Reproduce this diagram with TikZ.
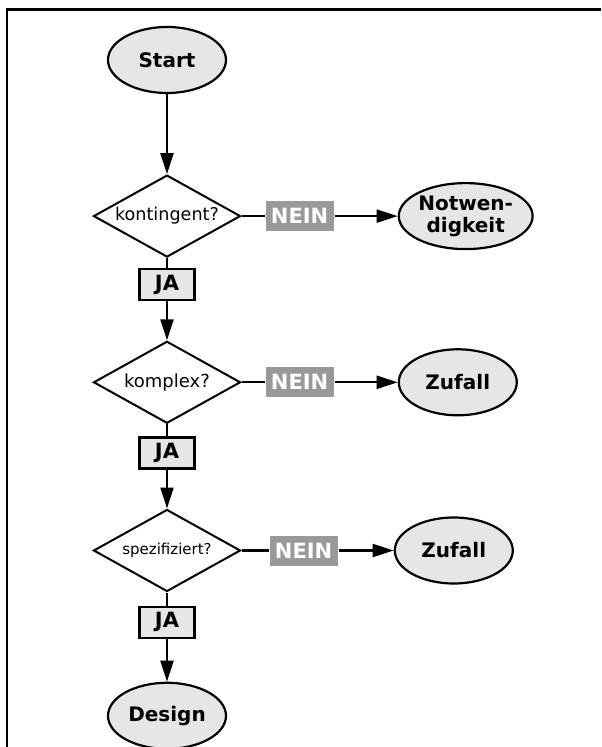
\documentclass[tikz,border=0pt]{standalone}
\usepackage{fontspec}
\setmainfont{DejaVu Sans}
\usetikzlibrary{arrows.meta, positioning, shapes.geometric}
\definecolor{boxgray}{RGB}{230,230,230}
\definecolor{neingray}{RGB}{153,153,153}

\begin{document}
\begin{tikzpicture}[line width=1.1pt,
  every node/.style={font=\fontsize{8.8pt}{10pt}\selectfont},
  term/.style={draw, fill=boxgray, ellipse, inner sep=0pt, minimum width=59pt, minimum height=33pt, align=center, font=\fontsize{10pt}{11pt}\selectfont\bfseries},
  decision/.style={draw, fill=white, diamond, aspect=1.8, inner sep=0pt, minimum width=73.5pt, minimum height=41pt, line width=1pt},
  jabox/.style={draw, fill=boxgray, inner sep=0pt, minimum width=27.5pt, minimum height=15.5pt, font=\fontsize{10.5pt}{12pt}\selectfont\bfseries},
  neinbox/.style={fill=neingray, text=white, inner sep=0pt, minimum width=34pt, minimum height=15pt, font=\fontsize{10.5pt}{12pt}\selectfont\bfseries},
  flow/.style={-{Triangle[length=10.5pt, width=6.5pt]}}]
  \useasboundingbox (-83.5pt,30pt) rectangle (217pt,-343.5pt);
  \draw[line width=1.2pt] (-80pt,-343.5pt) |- (217pt,25.25pt);

  % main column
  \node[term] (start) at (0,0) {Start};
  \node[decision, below=40pt of start] (q1) {kontingent?};
  \node[jabox, below=5pt of q1] (ja1) {JA};
  \node[decision, below=19.5pt of ja1] (q2) {\fontsize{9pt}{10pt}\selectfont komplex?};
  \node[jabox, below=6pt of q2] (ja2) {JA};
  \node[decision, below=19.5pt of ja2] (q3) {\fontsize{7.5pt}{9pt}\selectfont spezifiziert?};
  \node[jabox, below=6.5pt of q3] (ja3) {JA};
  \node[term, below=21.5pt of ja3] (design) {Design};

  % no branches
  \node[neinbox, right=11.5pt of q1] (nein1) {NEIN};
  \node[term, right=31.5pt of nein1] (notw) {Notwen-\\digkeit};
  \node[neinbox, right=11.5pt of q2] (nein2) {NEIN};
  \node[term, right=31.5pt of nein2] (zuf1) {Zufall};
  \node[neinbox, right=13.5pt of q3] (nein3) {NEIN};
  \node[term, right=27.5pt of nein3] (zuf2) {Zufall};

  \draw[flow] (start) -- (q1);
  \draw (q1) -- (ja1);
  \draw[flow] (ja1) -- (q2);
  \draw (q2) -- (ja2);
  \draw[flow] (ja2) -- (q3);
  \draw (q3) -- (ja3);
  \draw[flow] (ja3) -- (design);
  \draw (q1) -- (nein1);
  \draw[flow] (nein1) -- (notw);
  \draw (q2) -- (nein2);
  \draw[flow] (nein2) -- (zuf1);
  \draw (q3) -- (nein3);
  \draw[flow] (nein3) -- (zuf2);
\end{tikzpicture}
\end{document}
